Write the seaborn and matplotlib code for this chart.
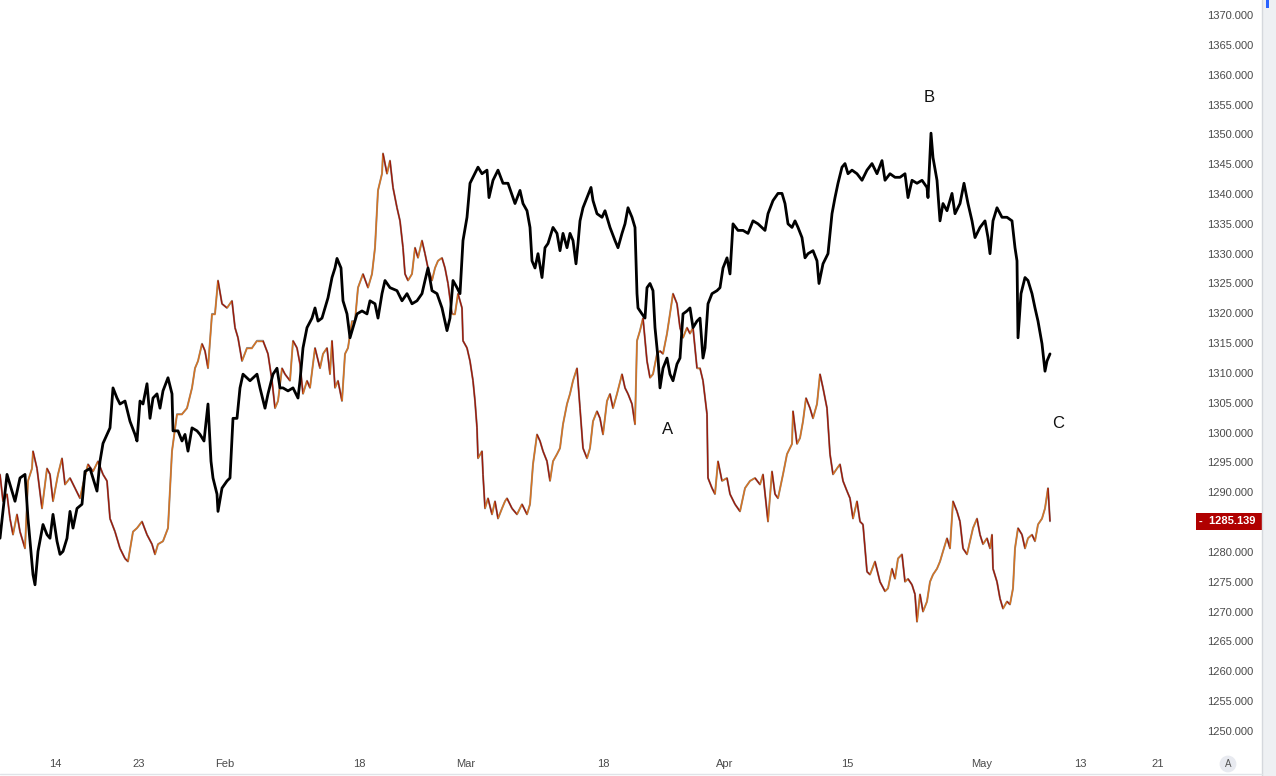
import numpy as np
import pandas as pd
import matplotlib
matplotlib.use("Agg")
import matplotlib.pyplot as plt
import matplotlib.transforms as mtransforms
from matplotlib.collections import LineCollection
from matplotlib.patches import Rectangle
from matplotlib.lines import Line2D
import seaborn as sns

# black series (bar index, price)
black_t = [0, 7, 10, 15, 20, 25, 28, 33, 35, 38, 43, 47, 50, 53, 57, 60, 63, 67, 70, 73,
           77, 82, 85, 90, 97, 100, 103, 110, 113, 117, 120, 125, 130, 135, 137, 140, 143, 147, 150, 153,
           157, 160, 163, 168, 172, 173, 178, 182, 185, 188, 192, 197, 200, 204, 208, 211, 213, 217, 218, 222,
           227, 230, 233, 237, 240, 243, 250, 257, 260, 265, 268, 273, 277, 280, 283, 288, 293, 298, 300, 303,
           307, 312, 315, 318, 322, 325, 328, 332, 335, 337, 341, 343, 347, 350, 353, 357, 362, 367, 370, 375,
           378, 382, 385, 390, 397, 402, 407, 412, 417, 422, 425, 428, 432, 437, 442, 447, 450, 453, 457, 460,
           463, 467, 470, 473, 478, 482, 487, 489, 493, 498, 503, 508, 515, 520, 523, 527, 530, 532, 535, 538,
           542, 545, 548, 553, 557, 560, 563, 567, 570, 573, 576, 578, 580, 583, 587, 591, 593, 597, 602, 605,
           610, 615, 618, 622, 625, 628, 632, 635, 637, 638, 642, 645, 647, 650, 653, 655, 658, 660, 663, 667,
           670, 673, 677, 680, 683, 687, 690, 693, 697, 700, 703, 705, 708, 712, 717, 720, 723, 727, 730, 733,
           738, 743, 748, 753, 758, 765, 768, 773, 778, 782, 785, 788, 792, 795, 798, 802, 805, 808, 813, 817,
           819, 823, 828, 832, 835, 838, 842, 845, 848, 852, 857, 862, 867, 872, 877, 882, 885, 890, 895, 900,
           905, 908, 912, 917, 922, 927, 928, 931, 933, 937, 940, 943, 947, 952, 955, 960, 964, 968, 972, 975,
           980, 985, 988, 990, 993, 997, 1002, 1007, 1012, 1015, 1017, 1018, 1021, 1025, 1028, 1032, 1035, 1038, 1042, 1045,
           1047, 1050]
black_price = [1282.3, 1293.0, 1291.3, 1288.5, 1292.4, 1293.0, 1285.6, 1276.2, 1274.5, 1280.1, 1284.6, 1282.9, 1282.3, 1286.3, 1281.8, 1279.6, 1280.1, 1282.3, 1286.8, 1284.0,
               1287.3, 1288.0, 1293.5, 1294.0, 1290.2, 1295.2, 1298.2, 1300.8, 1307.5, 1305.8, 1304.8, 1305.3, 1301.9, 1299.7, 1298.6, 1305.3, 1304.8, 1308.2, 1302.4, 1305.8,
               1306.5, 1304.1, 1307.0, 1309.2, 1306.5, 1300.3, 1300.3, 1298.6, 1299.7, 1296.9, 1300.8, 1300.3, 1299.7, 1298.6, 1304.8, 1295.2, 1292.4, 1289.7, 1286.8, 1290.7,
               1291.9, 1292.4, 1302.4, 1302.4, 1307.5, 1309.8, 1308.7, 1309.8, 1307.5, 1304.1, 1306.5, 1309.8, 1310.8, 1307.5, 1307.5, 1307.0, 1307.5, 1305.8, 1308.7, 1314.2,
               1317.6, 1319.2, 1320.9, 1318.7, 1319.2, 1320.9, 1322.6, 1326.0, 1327.6, 1329.2, 1327.6, 1322.1, 1319.9, 1315.9, 1317.6, 1319.9, 1320.4, 1319.9, 1322.1, 1321.6,
               1319.2, 1323.3, 1325.5, 1324.3, 1323.8, 1322.1, 1323.3, 1321.6, 1322.1, 1323.3, 1325.5, 1327.6, 1323.8, 1323.3, 1320.9, 1317.1, 1319.2, 1325.5, 1324.3, 1323.3,
               1332.2, 1336.1, 1341.8, 1342.8, 1344.5, 1343.4, 1344.0, 1339.4, 1342.3, 1344.0, 1341.8, 1341.8, 1338.4, 1340.6, 1338.4, 1337.2, 1334.4, 1328.8, 1327.6, 1330.0,
               1326.0, 1331.0, 1331.7, 1334.4, 1333.4, 1330.5, 1333.4, 1331.0, 1333.4, 1332.2, 1328.3, 1331.7, 1335.5, 1337.7, 1339.4, 1341.1, 1338.9, 1336.7, 1336.1, 1337.2,
               1334.4, 1332.2, 1331.0, 1333.4, 1335.0, 1337.7, 1336.1, 1334.4, 1323.3, 1320.9, 1319.9, 1319.2, 1324.3, 1325.0, 1323.8, 1317.6, 1312.5, 1307.5, 1310.8, 1312.5,
               1309.8, 1308.7, 1311.5, 1312.5, 1319.9, 1320.4, 1320.9, 1317.6, 1318.7, 1319.2, 1312.5, 1314.2, 1321.6, 1323.3, 1323.8, 1324.3, 1327.6, 1329.3, 1326.6, 1335.0,
               1333.9, 1333.9, 1333.4, 1335.5, 1335.0, 1333.9, 1336.7, 1338.9, 1340.1, 1340.1, 1338.4, 1335.0, 1334.4, 1335.5, 1334.4, 1332.7, 1329.3, 1330.0, 1330.5, 1328.8,
               1325.0, 1328.3, 1330.0, 1336.7, 1339.4, 1341.8, 1344.5, 1345.1, 1343.4, 1344.0, 1343.4, 1342.3, 1344.0, 1345.1, 1343.4, 1345.6, 1342.3, 1343.4, 1342.8, 1342.8,
               1343.4, 1339.4, 1342.3, 1341.8, 1342.3, 1341.1, 1339.4, 1350.2, 1346.1, 1342.3, 1335.5, 1338.4, 1337.2, 1340.1, 1336.7, 1338.4, 1341.8, 1338.4, 1335.5, 1332.7,
               1334.4, 1335.5, 1332.7, 1330.0, 1335.5, 1337.7, 1336.1, 1336.1, 1335.5, 1331.0, 1328.8, 1315.9, 1323.3, 1326.0, 1325.5, 1323.3, 1320.9, 1318.7, 1314.9, 1310.3,
               1312.0, 1313.2]

# brown candle series (bar index, close)
brown_t = [0, 3, 7, 10, 13, 17, 20, 25, 28, 32, 33, 37, 42, 47, 50, 53, 58, 62, 65, 70,
           75, 80, 83, 88, 93, 98, 103, 107, 110, 115, 120, 125, 128, 133, 137, 142, 147, 152, 155, 158,
           163, 168, 172, 177, 182, 187, 192, 195, 198, 202, 205, 208, 212, 215, 218, 222, 227, 232, 235, 238,
           242, 247, 252, 257, 263, 268, 272, 275, 278, 282, 285, 290, 293, 297, 300, 303, 307, 310, 315, 320,
           323, 327, 330, 332, 335, 338, 342, 345, 348, 352, 355, 358, 363, 368, 372, 375, 378, 382, 383, 387,
           390, 393, 397, 400, 403, 405, 408, 412, 415, 418, 422, 425, 428, 432, 435, 438, 442, 445, 448, 452,
           455, 458, 462, 463, 467, 470, 473, 475, 477, 478, 482, 483, 485, 488, 492, 495, 498, 502, 505, 507,
           512, 517, 522, 527, 530, 533, 537, 540, 543, 547, 550, 553, 557, 560, 563, 567, 570, 573, 577, 580,
           583, 587, 590, 593, 597, 600, 603, 607, 610, 613, 617, 622, 625, 628, 632, 635, 637, 640, 643, 647,
           650, 653, 657, 660, 663, 667, 670, 673, 677, 680, 683, 687, 690, 693, 697, 700, 703, 707, 708, 712,
           715, 718, 722, 727, 730, 735, 740, 745, 750, 755, 760, 763, 768, 772, 775, 778, 783, 787, 792, 793,
           797, 800, 803, 806, 810, 813, 817, 820, 823, 827, 830, 833, 837, 840, 843, 847, 850, 853, 857, 860,
           863, 867, 870, 875, 880, 885, 888, 892, 895, 898, 902, 905, 908, 912, 915, 917, 920, 923, 927, 930,
           933, 937, 940, 943, 947, 950, 953, 957, 960, 963, 967, 970, 973, 977, 980, 983, 987, 990, 992, 993,
           997, 1000, 1003, 1007, 1010, 1013, 1015, 1018, 1022, 1025, 1028, 1032, 1035, 1038, 1042, 1045, 1048, 1050]
brown_price = [1293.0, 1288.5, 1289.7, 1285.6, 1282.9, 1286.3, 1283.4, 1280.6, 1291.9, 1294.0, 1296.9, 1294.0, 1287.3, 1294.0, 1293.0, 1288.5, 1293.0, 1295.7, 1291.3, 1292.4,
               1290.7, 1289.0, 1291.3, 1294.7, 1293.5, 1295.2, 1293.0, 1291.9, 1285.6, 1283.4, 1280.6, 1278.9, 1278.4, 1283.4, 1284.0, 1285.1, 1282.9, 1281.3, 1279.6, 1281.3,
               1281.8, 1284.0, 1296.9, 1303.1, 1303.1, 1304.1, 1307.5, 1310.8, 1312.0, 1314.9, 1313.7, 1310.8, 1319.9, 1319.9, 1325.5, 1321.6, 1320.9, 1322.1, 1317.6, 1315.9,
               1312.0, 1314.2, 1314.2, 1315.4, 1315.4, 1313.2, 1308.7, 1304.1, 1305.3, 1310.8, 1309.8, 1308.7, 1315.4, 1314.2, 1311.5, 1306.5, 1308.7, 1307.5, 1314.2, 1310.8,
               1313.2, 1314.2, 1309.8, 1315.4, 1307.5, 1308.7, 1305.3, 1313.2, 1314.2, 1318.7, 1318.7, 1324.3, 1326.6, 1324.3, 1326.6, 1331.0, 1340.6, 1343.4, 1346.8, 1343.4,
               1345.6, 1341.1, 1337.7, 1335.5, 1331.0, 1326.6, 1325.5, 1326.6, 1331.0, 1329.3, 1332.2, 1330.0, 1327.6, 1325.5, 1327.6, 1328.8, 1329.3, 1327.6, 1325.0, 1319.9,
               1319.9, 1323.3, 1320.9, 1315.4, 1314.2, 1312.0, 1308.7, 1305.3, 1300.8, 1295.7, 1296.9, 1293.0, 1287.3, 1289.0, 1286.3, 1288.5, 1285.6, 1287.3, 1288.5, 1289.0,
               1287.3, 1286.3, 1288.0, 1286.3, 1288.0, 1294.7, 1299.7, 1298.6, 1296.9, 1295.2, 1291.9, 1295.2, 1296.4, 1297.4, 1301.4, 1304.8, 1306.5, 1308.7, 1310.8, 1304.1,
               1297.4, 1295.7, 1297.4, 1301.9, 1303.6, 1302.4, 1299.7, 1305.3, 1306.5, 1304.1, 1306.5, 1309.8, 1307.5, 1306.5, 1304.8, 1301.4, 1315.4, 1317.1, 1319.2, 1312.0,
               1309.2, 1309.8, 1313.2, 1313.7, 1313.2, 1316.6, 1319.9, 1323.3, 1321.6, 1317.6, 1315.9, 1317.6, 1316.6, 1317.6, 1310.8, 1310.8, 1308.7, 1303.1, 1292.4, 1290.7,
               1289.7, 1295.2, 1291.9, 1292.4, 1289.7, 1288.0, 1286.8, 1290.7, 1291.9, 1292.4, 1291.3, 1293.0, 1285.1, 1293.5, 1289.7, 1289.0, 1293.0, 1296.4, 1298.1, 1303.6,
               1298.1, 1299.1, 1301.9, 1305.8, 1304.1, 1302.4, 1304.8, 1309.8, 1307.5, 1304.1, 1296.4, 1293.0, 1294.0, 1294.7, 1291.9, 1290.2, 1289.0, 1285.6, 1288.5, 1285.1,
               1284.6, 1276.7, 1276.2, 1278.4, 1275.0, 1273.4, 1273.9, 1277.2, 1275.5, 1278.9, 1279.6, 1275.0, 1275.5, 1274.5, 1272.9, 1268.3, 1272.9, 1270.0, 1271.7, 1275.0,
               1276.2, 1277.2, 1278.4, 1280.1, 1282.3, 1280.6, 1288.5, 1286.8, 1285.1, 1280.6, 1279.6, 1281.8, 1284.0, 1285.6, 1282.9, 1281.3, 1282.3, 1280.6, 1282.9, 1277.2,
               1275.0, 1272.2, 1270.5, 1271.7, 1271.2, 1273.9, 1280.6, 1284.0, 1282.9, 1280.6, 1282.3, 1282.9, 1281.8, 1284.6, 1285.6, 1287.3, 1290.7, 1285.139]

tick_pos = [55, 139, 225, 359, 466, 603, 725, 847, 982, 1080, 1158]
tick_labels = ["14", "23", "Feb", "18", "Mar", "18", "Apr", "15", "May", "13", "21"]

wave_labels = ["A", "B", "C"]
wave_t = [668, 929, 1058]
wave_price = [1300.6, 1356.2, 1301.6]

last_price = 1285.139

black_df = pd.DataFrame({"t": black_t, "price": black_price})
brown_df = pd.DataFrame({"t": brown_t, "price": brown_price})

sns.set_theme(style="white")
plt.rcParams["font.family"] = ["Liberation Sans", "DejaVu Sans"]

W, H = 1276, 776
fig = plt.figure(figsize=(W / 100, H / 100), dpi=100)
fig.patch.set_facecolor("white")
ax = fig.add_axes([0, 24 / H, 1195 / W, 752 / H])
ax.set_facecolor("white")

# brown candles: gray wick underlay + up/down coloured bodies
sns.lineplot(data=brown_df, x="t", y="price", ax=ax, color="#8c8c8c",
             linewidth=1.4, sort=False, estimator=None, zorder=2)
pts = brown_df[["t", "price"]].to_numpy()
segs = np.stack([pts[:-1], pts[1:]], axis=1)
cols = ["#d9731f" if b >= a else "#9c1a0a" for a, b in zip(brown_price[:-1], brown_price[1:])]
ax.add_collection(LineCollection(segs, colors=cols, linewidths=1.0, zorder=3))

sns.lineplot(data=black_df, x="t", y="price", ax=ax, color="black",
             linewidth=2.0, sort=False, estimator=None, zorder=4)

for lab, t, p in zip(wave_labels, wave_t, wave_price):
    ax.text(t, p, lab, fontsize=12, color="#111111", ha="center", va="center")

ax.set_xlim(0, 1195)
ax.set_ylim(1246.47, 1372.52)
ax.set_xlabel("")
ax.set_ylabel("")
ax.set_xticks(tick_pos)
ax.set_xticklabels(tick_labels)
ax.set_yticks(np.arange(1250, 1371, 5))
ax.set_yticklabels([f"{v:.3f}" for v in np.arange(1250, 1371, 5)])
ax.yaxis.tick_right()
ax.tick_params(axis="y", length=0, pad=9, labelsize=8, labelcolor="#4a4a4a")
ax.tick_params(axis="x", length=0, pad=5, labelsize=8, labelcolor="#4a4a4a")
for s in ax.spines.values():
    s.set_visible(False)
ax.grid(False)

# last price tag
trans = mtransforms.blended_transform_factory(ax.transAxes, ax.transData)
ax.text(1.0 + 4 / 1195, last_price, "-  1285.139 ", transform=trans, ha="left", va="center",
        fontsize=8, fontweight="bold", color="white", clip_on=False,
        bbox=dict(boxstyle="square,pad=0.3", fc="#b00000", ec="none"))

# side strip and borders
fig.add_artist(Rectangle((1262 / W, 0), 14 / W, 1, transform=fig.transFigure,
                         facecolor="#eef0f3", edgecolor="none"))
fig.add_artist(Rectangle((1266 / W, 1 - 8 / H), 3 / W, 8 / H, transform=fig.transFigure,
                         facecolor="#2962ff", edgecolor="none"))
fig.add_artist(Line2D([1262 / W, 1262 / W], [0, 1], transform=fig.transFigure,
                      color="#d5d8dd", linewidth=1))
fig.add_artist(Line2D([0, 1262 / W], [2 / H, 2 / H], transform=fig.transFigure,
                      color="#e0e3e8", linewidth=1))
fig.text(1228 / W, 1 - 764 / H, "A", ha="center", va="center", fontsize=7, color="#555555",
         bbox=dict(boxstyle="circle,pad=0.35", fc="#e8eaf0", ec="none"))

fig.savefig("out.png", dpi=100)
